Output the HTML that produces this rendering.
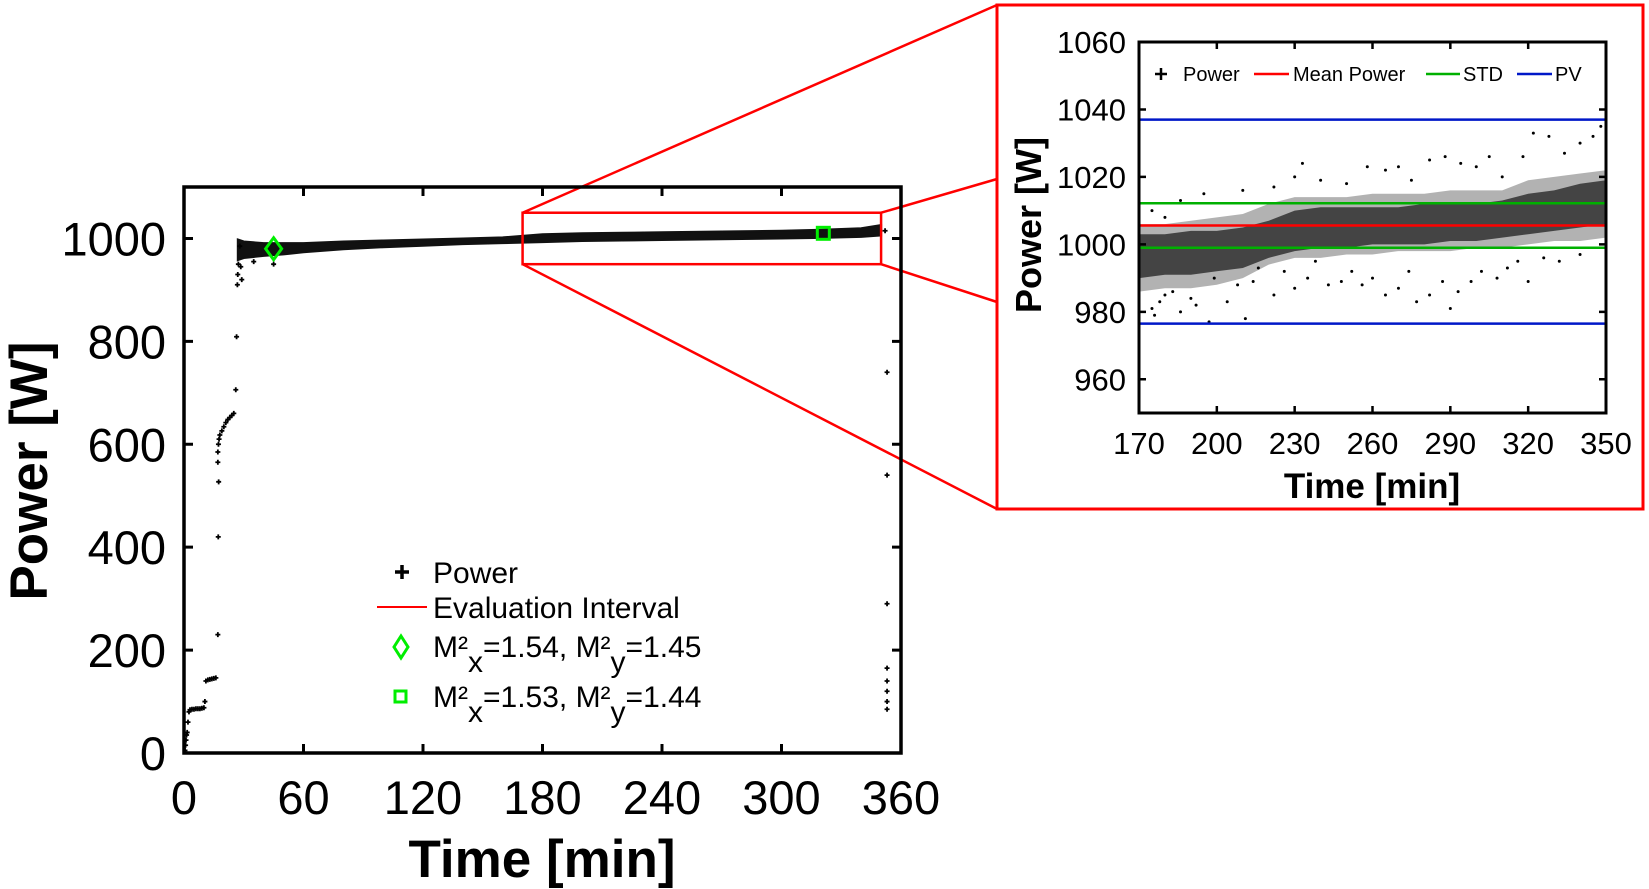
<!DOCTYPE html>
<html><head><meta charset="utf-8"><style>
html,body{margin:0;padding:0;background:#fff}
svg{display:block;font-family:"Liberation Sans",Arial,sans-serif}
</style></head><body>
<svg id="s" width="1649" height="889" viewBox="0 0 1649 889" xmlns="http://www.w3.org/2000/svg">
<g id="main"></g>
<g id="inset"></g>
</svg>
<script>
// ---------- main chart data ----------
const mainXTicks = [0,60,120,180,240,300,360];
const mainYTicks = [0,200,400,600,800,1000];
const bandT  = [27,30,40,50,60,80,100,120,140,160,180,200,220,240,260,280,300,320,340,350];
const bandLo = [958,962,966,969,973,979,983,986,989,991,993,995,996,997,998,999,1000,1001,1003,1006];
const bandHi = [998,994,991,991,991,994,996,998,1000,1002,1008,1010,1011,1012,1013,1014,1015,1017,1020,1026];
const ptT = [0.5,0.8,1,1.3,1.6,2,2.5,3,4,5,6,7,8,9,10,10.5,11,12,13,14,15,16,17,17.2,17.4,17,17,17.3,17.6,18,19,20,21,22,23,24,25,26,26.4,26.8,27,27.3,28,28.5,29,35,45,352,353,353,353,353,353,353,353,353];
const ptP = [5,15,25,35,40,60,80,84,85,85,86,86,86,87,88,100,140,142,143,144,145,146,230,420,527,565,585,600,610,618,626,634,642,648,652,656,660,706,809,910,930,950,985,945,920,955,950,1015,740,540,290,165,140,120,100,85];
const marker1 = {t:45, p:980};
const marker2 = {t:321, p:1010};
const evalT = [170,350];
const evalP = [950,1050];

// ---------- inset data ----------
const inXTicks = [170,200,230,260,290,320,350];
const inYTicks = [960,980,1000,1020,1040,1060];
const binT    = [170,180,190,200,210,220,230,240,250,260,270,280,290,300,310,320,330,340,350];
const coreLo  = [990,991,991,992,993,996,998,999,999,1000,1000,1000,1001,1001,1002,1003,1004,1005,1006];
const coreHi  = [1003,1003,1004,1004,1005,1007,1010,1011,1011,1011,1011,1012,1012,1012,1013,1015,1016,1018,1019];
const outerLo = [986,987,987,988,990,994,996,996,997,997,998,998,998,999,999,1000,1001,1001,1002];
const outerHi = [1006,1006,1007,1008,1009,1012,1014,1014,1014,1015,1015,1015,1016,1016,1016,1019,1020,1021,1022];
const outT = [175,176,178,180,183,186,190,192,197,199,204,208,211,214,216,222,226,230,235,238,243,248,252,256,260,265,270,274,277,282,287,290,293,298,302,308,312,316,320,326,332,340,186,195,210,222,230,233,240,250,258,265,270,275,282,288,294,300,305,310,318,322,328,334,340,345,348,175,180];
const outP = [981,979,983,985,986,980,984,982,977,990,983,988,978,989,993,985,992,987,990,995,988,989,992,988,990,985,987,992,983,985,989,981,986,989,992,990,993,995,989,996,995,997,1013,1015,1016,1017,1020,1024,1019,1018,1023,1022,1023,1019,1025,1026,1024,1023,1026,1020,1026,1033,1032,1027,1030,1032,1035,1010,1008];
const meanP = 1005.6;
const stdP = [999, 1012.2];
const pvP = [976.5, 1037];

const NS = "http://www.w3.org/2000/svg";
function mk(parent, tag, attrs, text){
  const e = document.createElementNS(NS, tag);
  for (const k in attrs) e.setAttribute(k, attrs[k]);
  if (text !== undefined) e.textContent = text;
  parent.appendChild(e);
  return e;
}
const M = document.getElementById('main');
const I = document.getElementById('inset');

const mL=184, mR=901, mT=187, mB=753;
const mx = t => mL + (t-0)/(360-0)*(mR-mL);
const my = p => mB - (p-0)/(1100-0)*(mB-mT);

const conn = [[mx(evalT[0]),my(evalP[1]),997,5],[mx(evalT[0]),my(evalP[0]),997,509],[mx(evalT[1]),my(evalP[1]),997,179],[mx(evalT[1]),my(evalP[0]),997,302]];
conn.forEach(c=>{
  const l = mk(M,'line',{x1:c[0],y1:c[1],x2:c[2],y2:c[3],stroke:'#f00','stroke-width':2.5});
  
  
});

let d='';
bandT.forEach((t,i)=>{ d += (i?'L':'M')+mx(t).toFixed(1)+','+my(bandHi[i]).toFixed(1); });
for(let i=bandT.length-1;i>=0;i--) d += 'L'+mx(bandT[i]).toFixed(1)+','+my(bandLo[i]).toFixed(1);
const band = mk(M,'path',{d:d+'Z',fill:'#111',stroke:'#111','stroke-width':2});


ptT.forEach((t,i)=>{
  const x=mx(t), y=my(ptP[i]);
  const p = mk(M,'path',{d:`M${x-2.5},${y}H${x+2.5}M${x},${y-2.5}V${y+2.5}`,stroke:'#000','stroke-width':1.8});
  
  
});
{
  const x=mx(marker1.t), y=my(marker1.p);
  const dm = mk(M,'path',{d:`M${x},${y-11}L${x+8},${y}L${x},${y+11}L${x-8},${y}Z`,fill:'none',stroke:'#0e0','stroke-width':3});
  
  
  const x2=mx(marker2.t), y2=my(marker2.p);
  const sq = mk(M,'rect',{x:x2-6,y:y2-6,width:12,height:12,fill:'none',stroke:'#0e0','stroke-width':3});
  
  
}
const er = mk(M,'rect',{x:mx(evalT[0]),y:my(evalP[1]),width:mx(evalT[1])-mx(evalT[0]),height:my(evalP[0])-my(evalP[1]),fill:'none',stroke:'#f00','stroke-width':2.5});


const mf = mk(M,'rect',{x:mL,y:mT,width:mR-mL,height:mB-mT,fill:'none',stroke:'#000','stroke-width':3.5});


mainXTicks.forEach(t=>{
  const x=mx(t);
  const tk = mk(M,'path',{d:`M${x},${mB}V${mB-9}M${x},${mT}V${mT+9}`,stroke:'#000','stroke-width':3});
  
  
  const lb = mk(M,'text',{x:x,y:814,'font-size':47,'text-anchor':'middle'},String(t));
  
  
});
mainYTicks.forEach(p=>{
  const y=my(p);
  const tk = mk(M,'path',{d:`M${mL},${y}H${mL+9}M${mR},${y}H${mR-9}`,stroke:'#000','stroke-width':3});
  
  
  const lb = mk(M,'text',{x:166,y:y+17,'font-size':47,'text-anchor':'end'},String(p));
  
  
});
const xt = mk(M,'text',{x:542,y:877,'font-size':53,'font-weight':'bold','text-anchor':'middle'},'Time [min]');


const yt = mk(M,'text',{x:47,y:471,'font-size':53,'font-weight':'bold','text-anchor':'middle',transform:'rotate(-90 47 471)'},'Power [W]');


{
  const g = mk(M,'g',{});
  
  
  mk(g,'path',{d:'M395,572H409M402,565V579',stroke:'#000','stroke-width':3.5});
  mk(g,'text',{x:433,y:583,'font-size':30},'Power');
  mk(g,'line',{x1:377,y1:607,x2:427,y2:607,stroke:'#f00','stroke-width':2});
  mk(g,'text',{x:433,y:618,'font-size':30},'Evaluation Interval');
  mk(g,'path',{d:'M401,636L408,647L401,658L394,647Z',fill:'none',stroke:'#0e0','stroke-width':3});
  const t1 = mk(g,'text',{x:433,y:657,'font-size':30});
  t1.innerHTML = 'M²<tspan dy="15">x</tspan><tspan dy="-15">=1.54, M²</tspan><tspan dy="15">y</tspan><tspan dy="-15">=1.45</tspan>';
  mk(g,'rect',{x:395,y:691,width:11,height:11,fill:'none',stroke:'#0e0','stroke-width':3});
  const t2 = mk(g,'text',{x:433,y:707,'font-size':30});
  t2.innerHTML = 'M²<tspan dy="15">x</tspan><tspan dy="-15">=1.53, M²</tspan><tspan dy="15">y</tspan><tspan dy="-15">=1.44</tspan>';
}

// ---------- inset ----------
const iL=1139, iR=1606, iT=42, iB=413;
const ix = t => iL + (t-170)/(350-170)*(iR-iL);
const iy = p => iB - (p-950)/(1060-950)*(iB-iT);
const box = mk(I,'rect',{x:997,y:5,width:646,height:504,fill:'#fff',stroke:'#f00','stroke-width':3});


function bandPath(lo,hi){
  let s='';
  binT.forEach((t,i)=>{ s += (i?'L':'M')+ix(t).toFixed(1)+','+iy(hi[i]).toFixed(1); });
  for(let i=binT.length-1;i>=0;i--) s += 'L'+ix(binT[i]).toFixed(1)+','+iy(lo[i]).toFixed(1);
  return s+'Z';
}
const ob = mk(I,'path',{d:bandPath(outerLo,outerHi),fill:'rgba(0,0,0,0.3)'});


const cb = mk(I,'path',{d:bandPath(coreLo,coreHi),fill:'rgba(0,0,0,0.62)'});


outT.forEach((t,i)=>{
  const c = mk(I,'circle',{cx:ix(t),cy:iy(outP[i]),r:1.5,fill:'#000'});
  
  
});
function hline(p,col,name){
  const l = mk(I,'line',{x1:iL,x2:iR,y1:iy(p),y2:iy(p),stroke:col,'stroke-width':2.5});
  
  
}
hline(pvP[0],'#0018c8','pv-line-lower');
hline(pvP[1],'#0018c8','pv-line-upper');
hline(stdP[0],'#00b000','std-line-lower');
hline(stdP[1],'#00b000','std-line-upper');
hline(meanP,'#f00','mean-power-line');
const inf = mk(I,'rect',{x:iL,y:iT,width:iR-iL,height:iB-iT,fill:'none',stroke:'#000','stroke-width':3});


inXTicks.forEach(t=>{
  const x=ix(t);
  const tk = mk(I,'path',{d:`M${x},${iB}V${iB-7}M${x},${iT}V${iT+7}`,stroke:'#000','stroke-width':2.5});
  
  
  const lb = mk(I,'text',{x:x,y:454,'font-size':31,'text-anchor':'middle'},String(t));
  
  
});
inYTicks.forEach(p=>{
  const y=iy(p);
  const tk = mk(I,'path',{d:`M${iL},${y}H${iL+7}M${iR},${y}H${iR-7}`,stroke:'#000','stroke-width':2.5});
  
  
  const lb = mk(I,'text',{x:1126,y:y+11,'font-size':31,'text-anchor':'end'},String(p));
  
  
});
const ixt = mk(I,'text',{x:1372,y:498,'font-size':35,'font-weight':'bold','text-anchor':'middle'},'Time [min]');


const iyt = mk(I,'text',{x:1041,y:225,'font-size':36,'font-weight':'bold','text-anchor':'middle',transform:'rotate(-90 1041 225)'},'Power [W]');


{
  const g = mk(I,'g',{});
  
  
  mk(g,'path',{d:'M1155,74H1167M1161,68V80',stroke:'#000','stroke-width':2.5});
  mk(g,'text',{x:1183,y:81,'font-size':20},'Power');
  mk(g,'line',{x1:1254,y1:74,x2:1289,y2:74,stroke:'#f00','stroke-width':2.5});
  mk(g,'text',{x:1293,y:81,'font-size':20},'Mean Power');
  mk(g,'line',{x1:1426,y1:74,x2:1460,y2:74,stroke:'#00b000','stroke-width':2.5});
  mk(g,'text',{x:1463,y:81,'font-size':20},'STD');
  mk(g,'line',{x1:1517,y1:74,x2:1552,y2:74,stroke:'#0018c8','stroke-width':2.5});
  mk(g,'text',{x:1555,y:81,'font-size':20},'PV');
}
</script>
</body></html>
